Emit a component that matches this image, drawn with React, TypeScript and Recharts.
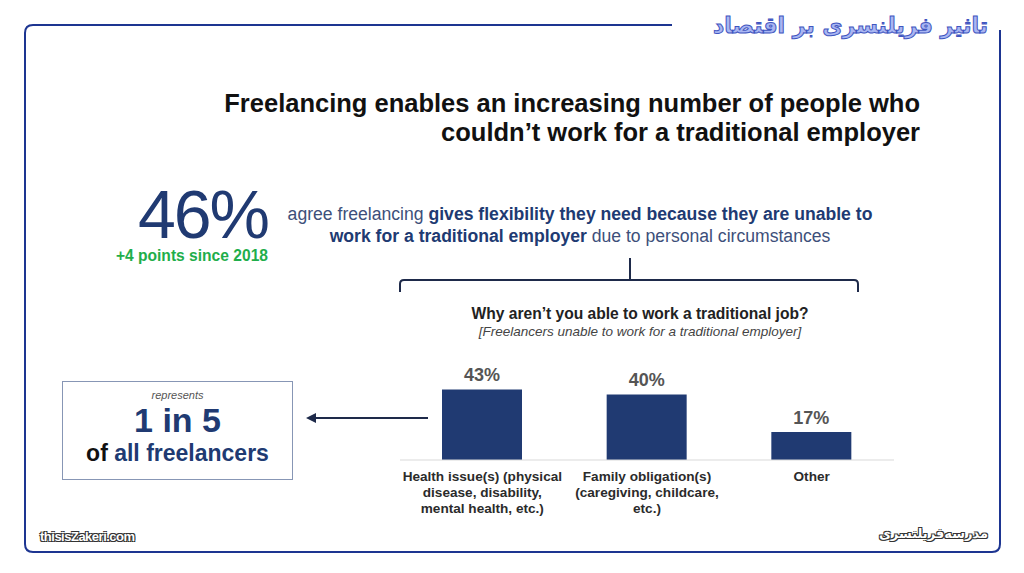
import { Bar, BarChart, LabelList, XAxis, YAxis } from "recharts";

const categories = ["Health", "Family", "Other"];
const categoryLines = [
  ["Health issue(s) (physical", "disease, disability,", "mental health, etc.)"],
  ["Family obligation(s)", "(caregiving, childcare,", "etc.)"],
  ["Other"],
];
const shares = [43, 40, 17];

const NAVY = "#203a72";
const FONT = "'Liberation Sans', Arial, sans-serif";

const data = categories.map((c, i) => ({ name: c, value: shares[i], lines: categoryLines[i] }));

function CategoryTick({ x, y, index }: any) {
  const lines = categoryLines[index] || [];
  return (
    <text x={x} y={y} textAnchor="middle" fill="#2b2b2b" fontSize={13.6} fontWeight="bold" fontFamily={FONT}>
      {lines.map((l, j) => (
        <tspan key={j} x={x} dy={j === 0 ? 13 : 16}>
          {l}
        </tspan>
      ))}
    </text>
  );
}

const outline = "1px 1px 0 #333, -1px -1px 0 #333, 1px -1px 0 #333, -1px 1px 0 #333";

export default function App() {
  return (
    <div style={{ position: "absolute", left: 0, top: 0, width: 1024, height: 573, background: "#fff", fontFamily: FONT, overflow: "hidden" }}>
      <svg width={1024} height={573} style={{ position: "absolute", left: 0, top: 0 }}>
        {/* frame */}
        <path d="M672,25 H33 Q25,25 25,33 V544 Q25,552 33,552 H992 Q1000,552 1000,544 V30" fill="none" stroke="#1d3591" strokeWidth={2} />
        {/* bracket */}
        <path d="M400,292 V284 Q400,280 404,280 H854 Q858,280 858,284 V292 M630,280 V258" fill="none" stroke="#1e2a4a" strokeWidth={2} />
        {/* arrow */}
        <line x1={428} y1={418} x2={312} y2={418} stroke="#1e2a4a" strokeWidth={2} />
        <path d="M306,418 L316,413 L316,423 Z" fill="#1e2a4a" />
      </svg>

      <div style={{ position: "absolute", right: 36, top: 13, fontFamily: "'DejaVu Sans'", fontWeight: "bold", fontSize: 22, color: "#a9b6f2", WebkitTextStroke: "1px #3f55c0", direction: "rtl" }}>
        تاثیر فریلنسری بر اقتصاد
      </div>

      <div style={{ position: "absolute", right: 104, top: 89, textAlign: "right", fontWeight: "bold", fontSize: 25.5, lineHeight: "29px", color: "#111" }}>
        Freelancing enables an increasing number of people who
        <br />
        couldn’t work for a traditional employer
      </div>

      <div style={{ position: "absolute", right: 756, top: 189, fontSize: 68, lineHeight: "50px", color: NAVY, letterSpacing: -2 }}>46%</div>
      <div style={{ position: "absolute", right: 756, top: 247, fontSize: 15.6, lineHeight: "18px", fontWeight: "bold", color: "#1fae4b" }}>+4 points since 2018</div>

      <div style={{ position: "absolute", left: 260, width: 640, top: 203, textAlign: "center", fontSize: 17.6, lineHeight: "22px", color: NAVY }}>
        <span style={{ color: "#3d4f7a" }}>agree freelancing </span>
        <b>gives flexibility they need because they are unable to</b>
        <br />
        <b>work for a traditional employer</b>
        <span style={{ color: "#3d4f7a" }}> due to personal circumstances</span>
      </div>

      <div style={{ position: "absolute", left: 390, width: 500, top: 305, textAlign: "center", fontSize: 15.6, fontWeight: "bold", color: "#222" }}>
        Why aren’t you able to work a traditional job?
      </div>
      <div style={{ position: "absolute", left: 390, width: 500, top: 324, textAlign: "center", fontSize: 13.5, fontStyle: "italic", color: "#444" }}>
        [Freelancers unable to work for a traditional employer]
      </div>

      <div style={{ position: "absolute", left: 62, top: 381, width: 229, height: 97, border: "1px solid #8796b5", textAlign: "center" }}>
        <div style={{ marginTop: 7, fontSize: 11, fontStyle: "italic", color: "#555" }}>represents</div>
        <div style={{ fontSize: 34, lineHeight: "38px", fontWeight: "bold", color: NAVY }}>1 in 5</div>
        <div style={{ fontSize: 23, lineHeight: "28px", fontWeight: "bold", color: "#111" }}>
          of <span style={{ color: NAVY }}>all freelancers</span>
        </div>
      </div>

      <div style={{ position: "absolute", left: 380, top: 340 }}>
        <BarChart width={540} height={190} data={data} margin={{ top: 38, right: 26, bottom: 10, left: 20 }}>
          <XAxis
            dataKey="name"
            interval={0}
            height={60}
            axisLine={{ stroke: "#d9d9d9" }}
            tickLine={false}
            tick={<CategoryTick />}
          />
          <YAxis hide domain={[0, 50]} />
          <Bar dataKey="value" fill={NAVY} barSize={80} isAnimationActive={false}>
            <LabelList dataKey="value" position="top" offset={8} formatter={(v: any) => `${v}%`} fill="#555" fontSize={18} fontWeight="bold" fontFamily={FONT} />
          </Bar>
        </BarChart>
      </div>

      <div style={{ position: "absolute", left: 40, top: 529, fontSize: 13, fontWeight: "bold", color: "#fff", textShadow: outline, letterSpacing: -0.5 }}>thisisZakeri.com</div>
      <div style={{ position: "absolute", right: 36, top: 526, fontFamily: "'DejaVu Sans'", fontSize: 13, fontWeight: "bold", color: "#fff", textShadow: outline, direction: "rtl" }}>مدرسه‌فریلنسری</div>
    </div>
  );
}
